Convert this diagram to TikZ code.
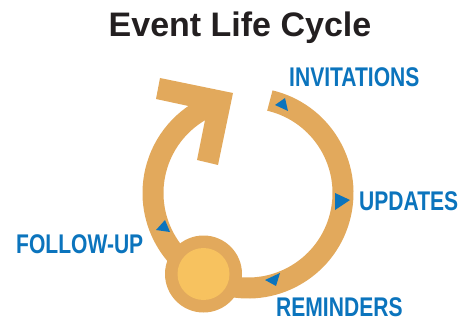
\documentclass[tikz,border=0pt]{standalone}
\usepackage{fontspec}
\setmainfont{Liberation Sans}
\newfontfamily\condfont[FakeStretch=0.78]{Liberation Sans}
\usepackage{xcolor}
\usepackage{tikz}
\usetikzlibrary{positioning}

\definecolor{ringtan}{HTML}{E2A95C}
\definecolor{knobyellow}{HTML}{F7C25F}
\definecolor{stepblue}{HTML}{0B74BD}
\definecolor{titleink}{HTML}{231F20}

\begin{document}
\begin{tikzpicture}[
    x=1pt, y=1pt,
    ring/.style={draw=ringtan, line width=21pt},
    marker/.style={fill=stepblue},
    phase/.style={font=\condfont\bfseries\fontsize{27}{27}\selectfont, text=stepblue, inner sep=0pt, text depth=0pt, anchor=base west}
    ]
    \useasboundingbox (0,0) rectangle (461,322);
    \coordinate (hub) at (248,129);
    \coordinate (knob) at (203.5,48);
    \node[font=\bfseries\fontsize{34}{34}\selectfont, text=titleink, inner sep=0pt, anchor=base] (title) at (240,285) {Event Life Cycle};
    % main loop and arrow head
    \draw[ring] (hub) ++(76.7:95) arc[start angle=76.7, end angle=-248, radius=95];
    \fill[ringtan] (156,223) -- (160,244) -- (233,229) -- (218,157) -- (197,162) -- (207,212) -- cycle;
    \fill[ringtan] (knob) circle[radius=38.5];
    \fill[knobyellow] (knob) circle[radius=26];
    % blue markers
    \fill[marker] (275,217) -- (285,224) -- (288,211) -- cycle;
    \fill[marker] (335,129) -- (350,122) -- (335,112) -- cycle;
    \fill[marker] (265,42) -- (280,49) -- (276,36) -- cycle;
    \fill[marker] (156,92) -- (165,102) -- (170,90) -- cycle;
    \node[phase] (invitations) at (289,235) {INVITATIONS};
    \node[phase] (updates) at (359,112) {UPDATES};
    \node[phase] (reminders) at (276,6) {REMINDERS};
    \node[phase] (followup) at (16,69) {FOLLOW-UP};
\end{tikzpicture}
\end{document}
